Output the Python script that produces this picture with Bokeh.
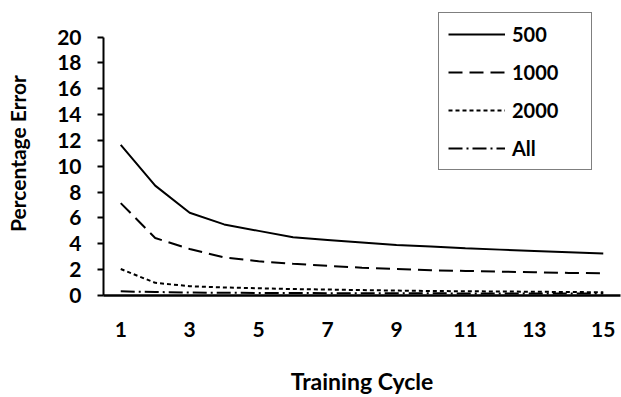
from bokeh.plotting import figure
from bokeh.models import Legend, LegendItem, FixedTicker, Range1d
from bokeh.embed import file_html
from bokeh.resources import INLINE

cycles = list(range(1, 16))
err_500 = [11.65, 8.5, 6.4, 5.5, 5.0, 4.5, 4.3, 4.1, 3.9, 3.8, 3.65, 3.55, 3.45, 3.35, 3.25]
err_1000 = [7.15, 4.45, 3.6, 2.95, 2.65, 2.45, 2.3, 2.15, 2.05, 1.95, 1.9, 1.85, 1.8, 1.75, 1.72]
err_2000 = [2.05, 0.98, 0.72, 0.62, 0.56, 0.5, 0.46, 0.42, 0.38, 0.35, 0.33, 0.31, 0.29, 0.27, 0.25]
err_all = [0.32, 0.27, 0.23, 0.21, 0.2, 0.19, 0.18, 0.18, 0.17, 0.17, 0.16, 0.16, 0.15, 0.15, 0.15]
series_names = ["500", "1000", "2000", "All"]
x_ticks = [1, 3, 5, 7, 9, 11, 13, 15]
y_ticks = [0, 2, 4, 6, 8, 10, 12, 14, 16, 18, 20]
y_axis_max = 20

FONT = "Lato"

# frame extends above the top tick so the legend box (which sits above it) is not clipped
p = figure(width=621, height=397, output_backend="svg", toolbar_location=None,
           x_range=Range1d(0.5, 15.5), y_range=Range1d(0, 21.977),
           min_border_left=103, min_border_right=1, min_border_top=11, min_border_bottom=97)
p.outline_line_color = None
p.xgrid.visible = False
p.ygrid.visible = False
p.background_fill_color = "white"
p.border_fill_color = "white"

dashes = ["solid", "14 7", "4 3", "14 4 2 4"]
data = [err_500, err_1000, err_2000, err_all]
renderers = []
for ys, d in zip(data, dashes):
    r = p.line(cycles, ys, line_color="black", line_width=2, line_dash=d)
    renderers.append(r)

# axes
p.xaxis.ticker = FixedTicker(ticks=x_ticks)
p.yaxis.ticker = FixedTicker(ticks=y_ticks)
p.yaxis.bounds = (0, y_axis_max)
for ax in (p.xaxis, p.yaxis):
    ax.axis_line_color = "black"
    ax.major_label_text_font = FONT
    ax.major_label_text_font_style = "bold"
    ax.major_label_text_font_size = "21px"
    ax.major_label_text_color = "black"
    ax.axis_label_text_font = FONT
    ax.axis_label_text_font_style = "bold"
    ax.axis_label_text_color = "black"
    ax.minor_tick_line_color = None

p.xaxis.axis_line_width = 2.5
p.xaxis.major_tick_line_color = None
p.xaxis.major_tick_out = 0
p.xaxis.major_tick_in = 0
p.xaxis.major_label_standoff = 26
p.xaxis.axis_label = "Training Cycle"
p.xaxis.axis_label_text_font_size = "23px"
p.xaxis.axis_label_standoff = 27

p.yaxis.axis_line_width = 2
p.yaxis.major_tick_line_color = "black"
p.yaxis.major_tick_line_width = 2
p.yaxis.major_tick_out = 6
p.yaxis.major_tick_in = 0
p.yaxis.major_label_standoff = 16
p.yaxis.axis_label = "Percentage Error"
p.yaxis.axis_label_text_font_size = "21px"
p.yaxis.axis_label_standoff = 24

legend = Legend(items=[LegendItem(label=n, renderers=[r]) for n, r in zip(series_names, renderers)],
                location=(335, 125))
legend.border_line_color = "black"
legend.border_line_width = 1.5
legend.background_fill_color = "white"
legend.background_fill_alpha = 1
legend.padding = 9
legend.margin = 0
legend.spacing = 14
legend.glyph_width = 57
legend.glyph_height = 20
legend.label_height = 20
legend.label_width = 70
legend.label_standoff = 7
legend.label_text_font = FONT
legend.label_text_font_style = "bold"
legend.label_text_font_size = "20px"
legend.label_text_color = "black"
p.add_layout(legend, "center")

open("out.html", "w").write(file_html(p, INLINE))
